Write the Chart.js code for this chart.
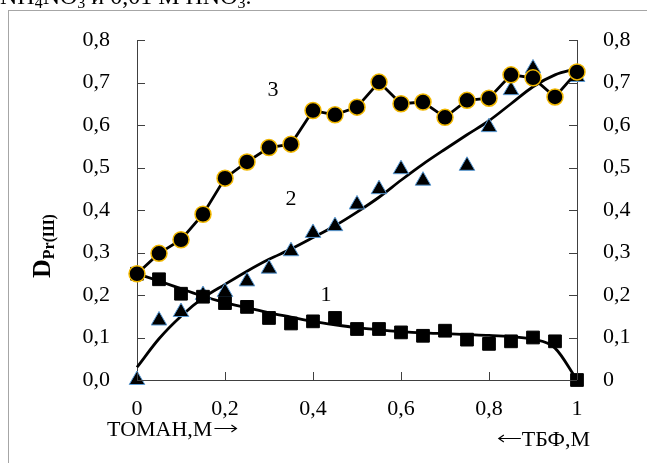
<!DOCTYPE html>
<html>
<head>
<meta charset="utf-8">
<script src="https://cdn.jsdelivr.net/npm/chart.js@4"></script>
<style>
  html, body { margin: 0; padding: 0; background: #fff; }
  #wrap { position: relative; width: 647px; height: 463px; overflow: hidden; }
  #frame { position: absolute; left: 8px; top: 10px; width: 700px; height: 500px;
           border-left: 1px solid #a6a6a6; border-top: 1px solid #a6a6a6; }
  #chart { position: absolute; left: 0; top: 0; }
</style>
</head>
<body>
<div id="wrap">
  <div id="frame"></div>
  <canvas id="chart" width="647" height="463"></canvas>
</div>
<script>
// concentration of TOMAH (fraction of total), 0 .. 1 step 0.05
const xVals = [0, 0.05, 0.1, 0.15, 0.2, 0.25, 0.3, 0.35, 0.4, 0.45, 0.5,
               0.55, 0.6, 0.65, 0.7, 0.75, 0.8, 0.85, 0.9, 0.95, 1];

// curve 1 - squares
const series1 = [0.25, 0.237, 0.203, 0.196, 0.181, 0.172, 0.146, 0.133, 0.138, 0.146, 0.12,
                 0.12, 0.112, 0.104, 0.116, 0.095, 0.085, 0.091, 0.1, 0.091, 0.0];
// curve 2 - triangles (two points hidden under the circles)
const series2 = [0.0, 0.14, 0.16, 0.2, 0.207, 0.232, 0.262, 0.303, 0.346, 0.362, 0.413,
                 0.449, 0.496, 0.469, null, 0.504, 0.595, 0.682, 0.733, null, 0.713];
// curve 3 - circles
const series3 = [0.25, 0.298, 0.33, 0.39, 0.475, 0.513, 0.547, 0.555, 0.634, 0.624, 0.642,
                 0.701, 0.65, 0.654, 0.618, 0.658, 0.663, 0.718, 0.711, 0.666, 0.725];

// smoothed trend lines for 1 and 2
const fit1 = [0.25, 0.233, 0.215, 0.197, 0.182, 0.17, 0.158, 0.148, 0.138, 0.13, 0.123,
              0.118, 0.114, 0.111, 0.109, 0.107, 0.105, 0.102, 0.096, 0.075, 0.0];
const fit2 = [0.03, 0.097, 0.15, 0.193, 0.225, 0.256, 0.284, 0.308, 0.335, 0.363, 0.395,
              0.43, 0.47, 0.508, 0.543, 0.577, 0.61, 0.65, 0.69, 0.718, 0.733];

const xTicks = [0, 0.2, 0.4, 0.6, 0.8, 1];
const yTicks = [0, 0.1, 0.2, 0.3, 0.4, 0.5, 0.6, 0.7, 0.8];

const SERIF = '"Liberation Serif", "Times New Roman", serif';

function pts(arr) {
    return xVals.map((x, i) => ({ x: x, y: arr[i] })).filter(p => p.y !== null);
}
function comma(v, digits) {
    return v.toFixed(digits).replace('.', ',');
}

// thin arrow with a small head
function arrow(ctx, x1, x2, y) {
    const dir = Math.sign(x2 - x1);
    ctx.beginPath();
    ctx.moveTo(x1, y); ctx.lineTo(x2, y);
    ctx.moveTo(x2 - dir * 5, y - 3.5); ctx.lineTo(x2, y); ctx.lineTo(x2 - dir * 5, y + 3.5);
    ctx.stroke();
}

// inward tick marks on all three axes + free text
const decorPlugin = {
    id: 'decor',
    afterDraw(chart) {
        const ctx = chart.ctx;
        const x = chart.scales.x, y = chart.scales.y, y2 = chart.scales.y2;
        const area = chart.chartArea;
        ctx.save();
        ctx.strokeStyle = '#404040';
        ctx.lineWidth = 1;
        ctx.beginPath();
        yTicks.forEach(v => {
            const py = Math.round(y.getPixelForValue(v)) + 0.5;
            ctx.moveTo(area.left, py); ctx.lineTo(area.left + 8, py);
            const py2 = Math.round(y2.getPixelForValue(v)) + 0.5;
            ctx.moveTo(area.right, py2); ctx.lineTo(area.right - 8, py2);
        });
        xTicks.forEach(v => {
            const px = Math.round(x.getPixelForValue(v)) + 0.5;
            ctx.moveTo(px, area.bottom); ctx.lineTo(px, area.bottom - 8);
        });
        ctx.stroke();

        ctx.fillStyle = '#000';
        ctx.textBaseline = 'alphabetic';

        // caption line, mostly cut off at the top
        drawRuns(ctx, 0, 4, 24, [['NH'], ['4', 1], ['NO'], ['3', 1], [' и 0,01 М HNO'], ['3', 1], ['.']]);

        // curve numbers
        ctx.font = '22px ' + SERIF;
        ctx.textAlign = 'center';
        ctx.fillText('3', 273, 96);
        ctx.fillText('2', 291, 205);
        ctx.fillText('1', 326, 301);

        // axis captions
        ctx.textAlign = 'left';
        ctx.fillText('ТОМАН,М', 107, 436);
        const wl = ctx.measureText('ТОМАН,М').width;
        ctx.strokeStyle = '#000';
        ctx.lineWidth = 1.2;
        arrow(ctx, 107 + wl + 2, 107 + wl + 24, 428.5);
        ctx.textAlign = 'right';
        ctx.fillText('ТБФ,М', 590, 446);
        const wr = ctx.measureText('ТБФ,М').width;
        arrow(ctx, 590 - wr - 1, 590 - wr - 23, 438.5);

        // rotated y title
        ctx.translate(50, 278);
        ctx.rotate(-Math.PI / 2);
        ctx.textAlign = 'left';
        ctx.font = 'bold 26px ' + SERIF;
        ctx.fillText('D', 0, 0);
        const w = ctx.measureText('D').width;
        ctx.font = 'bold 16px ' + SERIF;
        ctx.fillText('Pr(Ш)', w, 4);
        ctx.restore();
    }
};

function drawRuns(ctx, x, base, size, runs) {
    ctx.textAlign = 'left';
    runs.forEach(r => {
        const sub = r[1];
        ctx.font = (sub ? Math.round(size * 0.65) : size) + 'px ' + SERIF;
        ctx.fillText(r[0], x, base + (sub ? 4 : 0));
        x += ctx.measureText(r[0]).width;
    });
}

const tickFont = { family: SERIF, size: 22 };

new Chart(document.getElementById('chart'), {
    type: 'scatter',
    data: {
        datasets: [
            {
                label: '3',
                data: pts(series3),
                showLine: true,
                tension: 0,
                borderColor: '#000',
                borderWidth: 2.8,
                pointRadius: 8,
                pointBackgroundColor: '#000',
                pointBorderColor: '#f2b800',
                pointBorderWidth: 1.5,
                clip: false,
                order: 1
            },
            {
                label: '1',
                data: pts(series1),
                pointStyle: 'rect',
                pointRadius: 9,
                pointBackgroundColor: '#000',
                pointBorderColor: '#000',
                pointBorderWidth: 1,
                clip: false,
                order: 2
            },
            {
                label: '2',
                data: pts(series2),
                pointStyle: 'triangle',
                pointRadius: 9,
                pointBackgroundColor: '#000',
                pointBorderColor: '#5b9bd5',
                pointBorderWidth: 1,
                clip: false,
                order: 3
            },
            {
                label: 'fit1',
                data: pts(fit1),
                showLine: true,
                cubicInterpolationMode: 'monotone',
                borderColor: '#000',
                borderWidth: 2.8,
                pointRadius: 0,
                clip: false,
                order: 4
            },
            {
                label: 'fit2',
                data: pts(fit2),
                showLine: true,
                cubicInterpolationMode: 'monotone',
                borderColor: '#000',
                borderWidth: 2.8,
                pointRadius: 0,
                clip: false,
                order: 4
            }
        ]
    },
    options: {
        responsive: false,
        animation: false,
        layout: { padding: { top: 40, left: 0, right: 0, bottom: 0 } },
        plugins: { legend: { display: false }, tooltip: { enabled: false } },
        scales: {
            x: {
                type: 'linear',
                position: 'bottom',
                min: 0, max: 1,
                afterBuildTicks: s => { s.ticks = xTicks.map(v => ({ value: v })); },
                afterFit: s => { s.height = 83; },
                grid: { display: false },
                border: { display: true, color: '#404040', width: 1 },
                ticks: {
                    color: '#000', font: tickFont, padding: 8, maxRotation: 0,
                    callback: v => (v === 0 || v === 1) ? String(v) : comma(v, 1)
                }
            },
            y: {
                type: 'linear',
                position: 'left',
                min: 0, max: 0.8,
                afterBuildTicks: s => { s.ticks = yTicks.map(v => ({ value: v })); },
                afterFit: s => { s.width = 137; },
                grid: { display: false },
                border: { display: true, color: '#404040', width: 1 },
                ticks: { color: '#000', font: tickFont, padding: 19, callback: v => comma(v, 1) }
            },
            y2: {
                type: 'linear',
                position: 'right',
                min: 0, max: 0.8,
                afterBuildTicks: s => { s.ticks = yTicks.map(v => ({ value: v })); },
                afterFit: s => { s.width = 70; },
                grid: { display: false },
                border: { display: true, color: '#404040', width: 1 },
                ticks: { color: '#000', font: tickFont, padding: 18,
                         callback: v => v === 0 ? '0' : comma(v, 1) }
            }
        }
    },
    plugins: [decorPlugin]
});
</script>
</body>
</html>
